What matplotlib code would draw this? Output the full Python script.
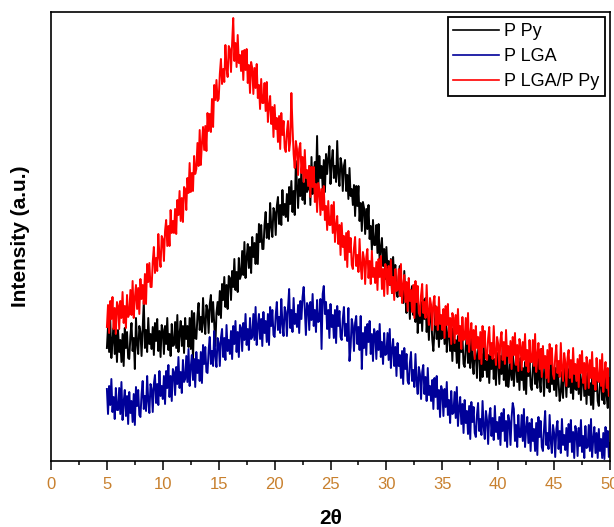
import numpy as np
import matplotlib
matplotlib.use("Agg")
import matplotlib.pyplot as plt
from matplotlib.ticker import MultipleLocator

plt.rcParams['font.family'] = ['Liberation Sans', 'DejaVu Sans']

# 2-theta scan, 5 to 50 deg in 0.1 deg steps
two_theta = np.linspace(5, 50, 451)

# intensities (a.u.), one row per degree
ppy = [
    113, 135, 109, 141, 103, 121, 133, 107, 127, 99,
    131, 109, 121, 99, 127, 95, 133, 113, 129, 103,
    102, 125, 138, 110, 123, 92, 143, 118, 107, 135,
    129, 105, 133, 160, 113, 131, 109, 143, 117, 127,
    112, 134, 106, 138, 120, 142, 110, 130, 104, 136,
    131, 107, 135, 117, 143, 111, 127, 105, 137, 115,
    116, 139, 113, 146, 109, 127, 140, 115, 135, 108,
    143, 122, 135, 114, 143, 112, 150, 100, 148, 123,
    122, 145, 158, 131, 144, 129, 163, 138, 127, 156,
    151, 128, 157, 166, 139, 159, 138, 115, 148, 159,
    146, 170, 143, 177, 161, 184, 154, 176, 152, 185,
    183, 161, 190, 174, 202, 171, 189, 169, 203, 182,
    186, 210, 186, 219, 183, 203, 217, 193, 214, 188,
    224, 204, 218, 197, 227, 197, 237, 219, 236, 212,
    212, 236, 249, 223, 237, 222, 258, 234, 224, 253,
    249, 226, 255, 264, 237, 256, 236, 271, 246, 257,
    244, 267, 240, 274, 257, 280, 249, 270, 246, 300,
    276, 253, 282, 265, 292, 261, 278, 257, 290, 269,
    272, 295, 256, 304, 267, 286, 299, 274, 325, 269,
    305, 283, 295, 273, 301, 269, 307, 287, 303, 315,
    277, 299, 311, 283, 295, 279, 320, 287, 275, 303,
    296, 270, 295, 301, 270, 286, 262, 293, 265, 272,
    256, 276, 245, 275, 255, 275, 240, 258, 230, 259,
    253, 227, 252, 232, 256, 222, 235, 211, 241, 216,
    216, 236, 208, 237, 197, 213, 223, 195, 212, 182,
    214, 190, 200, 176, 202, 168, 204, 182, 196, 168,
    164, 184, 195, 165, 175, 158, 190, 162, 148, 175,
    167, 142, 168, 175, 146, 163, 139, 172, 128, 153,
    138, 159, 130, 161, 142, 163, 129, 148, 121, 152,
    147, 122, 110, 130, 155, 122, 137, 114, 145, 122,
    123, 144, 117, 148, 109, 126, 137, 110, 129, 100,
    133, 110, 121, 98, 125, 93, 130, 109, 124, 97,
    94, 115, 127, 98, 109, 93, 126, 99, 87, 114,
    107, 83, 110, 118, 80, 107, 84, 117, 91, 100,
    84, 106, 78, 110, 92, 114, 82, 102, 76, 108,
    101, 77, 105, 87, 113, 81, 97, 75, 107, 74,
    85, 107, 81, 113, 75, 93, 105, 79, 99, 71,
    103, 81, 93, 71, 99, 67, 105, 85, 101, 75,
    71, 93, 105, 77, 89, 73, 107, 81, 69, 112,
    89, 65, 93, 101, 73, 91, 69, 103, 77, 87,
    71, 93, 65, 97, 79, 60, 69, 89, 63, 95,
    88, 64, 92, 74, 100, 68, 84, 62, 94, 72,
    71, 93, 67, 99, 61, 79, 91, 65, 85, 57,
    88, 66, 78, 56, 84, 52, 90, 70, 86, 60,
    55, 77, 89, 61, 73, 57, 91, 65, 53, 81,
    69,
]

plga = [
    72, 47, 75, 56, 82, 49, 64, 42, 73, 51,
    51, 73, 47, 79, 41, 59, 71, 45, 65, 37,
    69, 48, 60, 39, 67, 36, 74, 55, 71, 46,
    44, 67, 80, 52, 65, 50, 85, 60, 48, 77,
    72, 49, 77, 86, 58, 77, 56, 90, 65, 75,
    62, 85, 57, 90, 73, 96, 64, 85, 60, 92,
    89, 66, 94, 77, 104, 73, 89, 68, 101, 79,
    82, 105, 79, 112, 75, 94, 106, 81, 102, 74,
    109, 88, 101, 80, 109, 78, 116, 97, 114, 89,
    88, 111, 124, 97, 110, 95, 130, 105, 94, 123,
    118, 95, 123, 132, 104, 123, 101, 136, 110, 121,
    107, 130, 102, 135, 117, 140, 109, 129, 104, 136,
    133, 110, 138, 121, 147, 116, 132, 111, 143, 122,
    124, 147, 121, 154, 116, 135, 147, 122, 142, 115,
    149, 128, 140, 119, 147, 116, 154, 135, 151, 126,
    124, 146, 159, 131, 144, 128, 162, 137, 125, 154,
    149, 125, 153, 172, 133, 151, 129, 163, 137, 147,
    134, 156, 128, 160, 142, 164, 174, 152, 126, 158,
    155, 131, 159, 141, 167, 135, 151, 129, 161, 139,
    140, 162, 112, 167, 175, 147, 159, 132, 151, 123,
    157, 134, 146, 123, 151, 118, 155, 135, 150, 124,
    121, 142, 154, 125, 137, 120, 153, 100, 114, 142,
    135, 110, 138, 145, 117, 134, 111, 145, 92, 128,
    113, 134, 106, 137, 119, 140, 107, 127, 100, 132,
    127, 102, 130, 111, 137, 104, 119, 97, 128, 106,
    107, 128, 101, 132, 93, 111, 122, 95, 114, 85,
    118, 95, 106, 83, 110, 77, 113, 92, 107, 80,
    77, 98, 109, 80, 91, 74, 107, 80, 67, 94,
    87, 62, 89, 96, 67, 84, 60, 93, 66, 75,
    60, 81, 52, 83, 64, 85, 52, 71, 44, 75,
    70, 45, 72, 54, 79, 46, 61, 38, 70, 47,
    48, 69, 43, 74, 35, 53, 64, 37, 57, 28,
    61, 38, 50, 27, 55, 22, 59, 39, 54, 28,
    24, 46, 58, 30, 42, 26, 60, 34, 22, 50,
    41, 17, 45, 53, 25, 43, 21, 55, 29, 39,
    22, 44, 16, 48, 30, 52, 20, 40, 14, 46,
    40, 16, 44, 58, 52, 20, 36, 14, 46, 24,
    24, 46, 20, 52, 14, 32, 44, 18, 38, 10,
    42, 20, 32, 10, 38, 6, 44, 24, 40, 14,
    10, 32, 50, 16, 28, 12, 46, 20, 8, 36,
    28, 4, 32, 40, 12, 30, 8, 42, 16, 26,
    11, 33, 5, 37, 19, 41, 9, 29, 3, 35,
    29, 5, 33, 15, 41, 9, 25, 3, 35, 13,
    14, 36, 10, 42, 4, 22, 34, 8, 28, 3,
    32, 10, 22, 3, 28, 2, 34, 14, 30, 4,
    18,
]

plga_ppy = [
    134, 156, 128, 160, 142, 164, 132, 153, 127, 159,
    155, 132, 160, 143, 169, 138, 155, 133, 166, 144,
    147, 171, 146, 180, 143, 163, 176, 152, 173, 147,
    182, 162, 176, 157, 187, 157, 197, 179, 198, 174,
    174, 199, 214, 188, 203, 190, 227, 204, 194, 225,
    222, 200, 230, 241, 215, 235, 215, 251, 228, 240,
    228, 252, 227, 261, 246, 270, 240, 263, 239, 274,
    272, 251, 283, 268, 298, 269, 288, 270, 305, 287,
    292, 318, 295, 331, 296, 318, 334, 311, 335, 310,
    348, 330, 347, 329, 362, 334, 376, 361, 381, 360,
    362, 387, 402, 377, 392, 379, 416, 393, 384, 415,
    412, 389, 418, 443, 400, 418, 394, 426, 398, 406,
    390, 410, 381, 411, 391, 412, 378, 396, 368, 399,
    393, 367, 393, 373, 397, 363, 376, 352, 382, 358,
    358, 378, 350, 379, 339, 355, 365, 337, 354, 324,
    356, 332, 343, 319, 345, 312, 348, 326, 340, 313,
    309, 329, 340, 310, 320, 368, 335, 307, 293, 320,
    312, 286, 312, 318, 288, 304, 279, 311, 283, 291,
    275, 295, 264, 294, 274, 294, 259, 277, 249, 278,
    272, 246, 272, 251, 275, 241, 255, 231, 260, 236,
    236, 256, 228, 259, 219, 235, 245, 217, 236, 206,
    238, 214, 225, 201, 228, 194, 230, 209, 223, 196,
    192, 213, 224, 195, 206, 189, 222, 195, 182, 209,
    202, 177, 204, 212, 183, 200, 177, 210, 184, 193,
    178, 199, 171, 202, 184, 205, 172, 192, 165, 197,
    192, 167, 195, 176, 201, 168, 184, 161, 192, 170,
    171, 192, 165, 197, 158, 175, 186, 159, 179, 150,
    183, 160, 171, 149, 176, 143, 180, 159, 175, 148,
    145, 166, 177, 148, 159, 143, 176, 149, 136, 163,
    156, 131, 158, 165, 136, 154, 131, 164, 137, 146,
    131, 152, 123, 155, 136, 157, 124, 143, 117, 148,
    143, 118, 146, 127, 152, 120, 135, 112, 144, 121,
    122, 143, 117, 148, 109, 127, 138, 111, 131, 102,
    135, 113, 124, 102, 129, 97, 135, 114, 130, 103,
    101, 123, 134, 106, 118, 102, 135, 109, 96, 124,
    117, 93, 121, 129, 101, 119, 97, 131, 105, 115,
    98, 120, 92, 124, 106, 128, 96, 116, 90, 122,
    115, 91, 119, 101, 127, 95, 111, 89, 121, 99,
    99, 121, 95, 127, 89, 106, 118, 92, 112, 84,
    115, 93, 105, 83, 111, 79, 117, 97, 113, 87,
    82, 104, 116, 88, 100, 84, 118, 92, 80, 108,
    99, 75, 103, 111, 83, 101, 79, 113, 87, 97,
    80, 102, 74, 106, 88, 110, 78, 98, 72, 104,
    97, 73, 101, 83, 109, 77, 93, 71, 103, 81,
    79, 101, 75, 107, 69, 87, 99, 73, 93, 65,
    83,
]

labels = ['P Py', 'P LGA', 'P LGA/P Py']
colors = ['black', '#000099', 'red']
xticks = [0, 5, 10, 15, 20, 25, 30, 35, 40, 45, 50]

fig = plt.figure(figsize=(6.14, 5.27), dpi=100)
ax = fig.add_axes([51 / 614, 1 - 461 / 527, 559 / 614, 449 / 527])

for series, lab, col in zip([ppy, plga, plga_ppy], labels, colors):
    ax.plot(two_theta, series, color=col, lw=1.4, label=lab)

ax.set_xlim(0, 50)
ax.set_ylim(0, 449)
ax.set_xticks(xticks)
ax.xaxis.set_minor_locator(MultipleLocator(2.5))
ax.set_yticks([])
ax.tick_params(axis='x', which='major', direction='out', length=6.5, width=1.1,
               labelsize=12, labelcolor='#c8802e', pad=5)
ax.tick_params(axis='x', which='minor', direction='out', length=3, width=1.1)
for sp in ax.spines.values():
    sp.set_linewidth(1.2)

ax.set_xlabel('2θ', fontsize=15, fontweight='bold')
ax.xaxis.set_label_coords(0.5, -0.108)
ax.xaxis.label.set_va('top')
ax.set_ylabel('Intensity (a.u.)', fontsize=15, fontweight='bold')
ax.yaxis.set_label_coords(-0.038, 0.5)

leg = ax.legend(loc='upper right', fontsize=13, frameon=True, fancybox=False,
                edgecolor='black', framealpha=1, handlelength=2.5,
                handletextpad=0.3, labelspacing=0.45, borderpad=0.3,
                borderaxespad=0.3)
leg.get_frame().set_linewidth(1.3)
for line in leg.get_lines():
    line.set_linewidth(1.2)

fig.savefig('out.png', dpi=100)
